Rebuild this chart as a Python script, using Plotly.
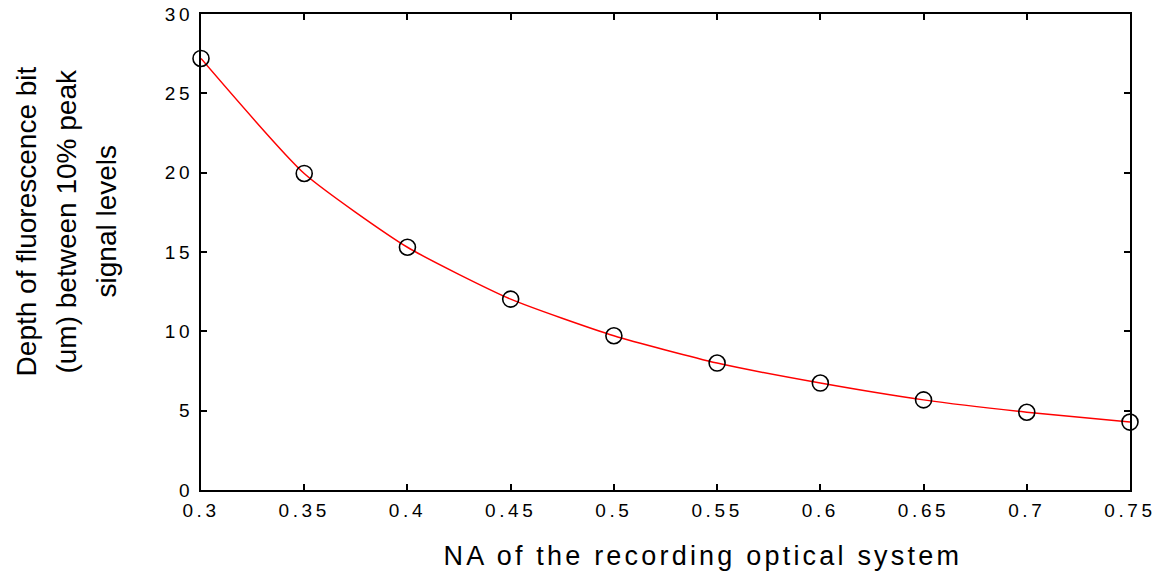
import plotly.graph_objects as go

na = [0.30, 0.35, 0.40, 0.45, 0.50, 0.55, 0.60, 0.65, 0.70, 0.75]
depth = [27.2, 19.95, 15.3, 12.03, 9.72, 8.0, 6.74, 5.68, 4.9, 4.28]

x_ticks = [0.3, 0.35, 0.4, 0.45, 0.5, 0.55, 0.6, 0.65, 0.7, 0.75]
x_ticktext = ["0.3", "0.35", "0.4", "0.45", "0.5", "0.55", "0.6", "0.65", "0.7", "0.75"]
y_ticks = [0, 5, 10, 15, 20, 25, 30]

y_title_lines = ["Depth of fluorescence bit", "(um) between 10% peak", "signal levels"]
x_title = "NA of the recording optical system"

FONT = "Liberation Sans, Arial, sans-serif"

fig = go.Figure()
fig.add_trace(go.Scatter(
    x=na, y=depth, mode="lines",
    line=dict(color="#ff0000", width=1.5, shape="spline", smoothing=0.55),
    showlegend=False, hoverinfo="skip"))
fig.add_trace(go.Scatter(
    x=na, y=depth, mode="markers",
    marker=dict(symbol="circle-open", size=16, color="black", line=dict(width=1.6, color="black")),
    showlegend=False, cliponaxis=False))

axis_common = dict(
    showgrid=False, zeroline=False, showline=True, linecolor="black", linewidth=2,
    mirror="ticks", ticks="inside", ticklen=6, tickwidth=1.5, tickcolor="black",
    tickfont=dict(family=FONT, size=19, color="black"), automargin=False,
)
fig.update_xaxes(range=[0.3, 0.75], tickvals=x_ticks, ticktext=x_ticktext,
                 ticklabelstandoff=2, **axis_common)
fig.update_yaxes(range=[0, 30], tickvals=y_ticks, ticklabelstandoff=2, **axis_common)

for i, line in enumerate(y_title_lines):
    fig.add_annotation(text=line, textangle=-90, xref="paper", yref="paper",
                       x=[-0.188, -0.1448, -0.1018][i], y=0.565, xanchor="center", yanchor="middle",
                       showarrow=False, font=dict(family=FONT, size=28, color="black"))

fig.add_annotation(text=x_title, xref="paper", yref="paper", x=0.540, y=-0.1387,
                   xanchor="center", yanchor="middle", showarrow=False,
                   font=dict(family=FONT, size=27, color="black"), name="xtitle")

fig.update_layout(
    width=1156, height=574, margin=dict(l=201, r=26, t=14, b=84),
    paper_bgcolor="white", plot_bgcolor="white",
    font=dict(family=FONT, color="black"),
)

post = """
document.querySelectorAll('.xtick text, .ytick text').forEach(function(t){t.style.letterSpacing='3.6px';});
document.querySelectorAll('.annotation-text').forEach(function(t){
  if (t.textContent.indexOf('NA of') === 0) { t.style.letterSpacing='3.2px'; }
});
"""
fig.write_html("out.html", post_script=post)
